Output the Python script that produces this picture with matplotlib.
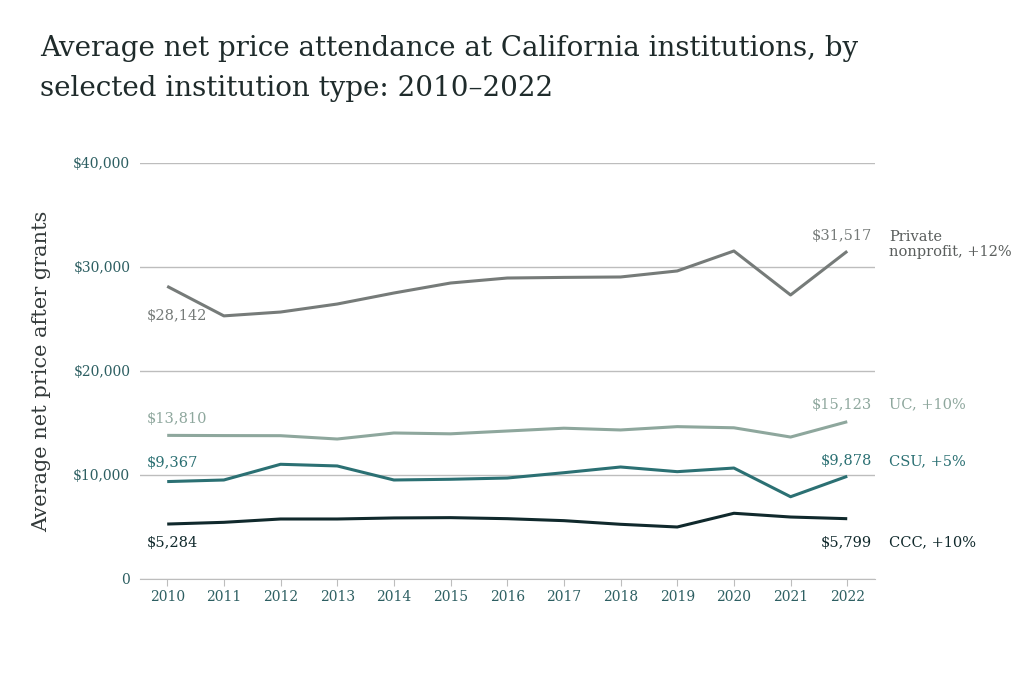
import numpy as np
import matplotlib
matplotlib.use('Agg')
import matplotlib.pyplot as plt
from matplotlib.ticker import FuncFormatter

plt.rcParams['font.family'] = ['DejaVu Serif']

years = list(range(2010, 2023))
private = [28142, 25300, 25670, 26440, 27500, 28460, 28940, 29000, 29040, 29620, 31540, 27310, 31517]
uc = [13810, 13790, 13780, 13460, 14040, 13960, 14230, 14500, 14330, 14650, 14540, 13650, 15123]
csu = [9367, 9520, 11030, 10870, 9520, 9590, 9710, 10220, 10770, 10320, 10670, 7910, 9878]
ccc = [5284, 5450, 5770, 5770, 5870, 5900, 5800, 5610, 5260, 5000, 6320, 5960, 5799]
names = ['Private\nnonprofit, +12%', 'UC, +10%', 'CSU, +5%', 'CCC, +10%']

series = [private, uc, csu, ccc]
colors = ['#767b79', '#8ea79d', '#2b7073', '#10292c']
name_colors = ['#5a5e5d', '#8ea79d', '#2b7073', '#10292c']
# label offsets in pixels (start, end)
start_dy = [-30, 16, 19, -19]
end_dy = [15, 17, 15, -24]

fig = plt.figure(figsize=(10.24, 6.74), dpi=100)
ax = fig.add_axes([140 / 1024, 1 - 579 / 674, 735 / 1024, 416 / 674])

for vals, c, nc, nm, sdy, edy in zip(series, colors, name_colors, names, start_dy, end_dy):
    ax.plot(years, vals, color=c, lw=2.2, solid_capstyle='butt', zorder=3)
    ax.annotate('${:,}'.format(vals[0]), (years[0], vals[0]), xytext=(-20, sdy),
                textcoords='offset pixels', ha='left', va='center', color=c, fontsize=10.5)
    ax.annotate('${:,}'.format(vals[-1]), (years[-1], vals[-1]), xytext=(25, edy),
                textcoords='offset pixels', ha='right', va='center', color=c, fontsize=10.5)
    ny = edy if nm.count('\n') == 0 else edy - 8
    ax.annotate(nm, (years[-1], vals[-1]), xytext=(42, ny),
                textcoords='offset pixels', ha='left', va='center', color=nc, fontsize=10.5,
                linespacing=1.1, annotation_clip=False)

ax.set_xlim(2009.52, 2022.49)
ax.set_ylim(0, 40000)
ax.set_xticks(years)
ax.set_yticks([0, 10000, 20000, 30000, 40000])
ax.yaxis.set_major_formatter(FuncFormatter(lambda v, p: '0' if v == 0 else '${:,.0f}'.format(v)))
ax.grid(axis='y', color='#bdbdbd', lw=1)
ax.set_axisbelow(True)
for s in ['top', 'right', 'left']:
    ax.spines[s].set_visible(False)
ax.spines['bottom'].set_color('#bdbdbd')
ax.tick_params(axis='y', length=0, pad=7, labelcolor='#2d5f62', labelsize=10)
ax.tick_params(axis='x', length=5, color='#bdbdbd', pad=3, labelcolor='#2d5f62', labelsize=10)

ax.set_ylabel('Average net price after grants', fontsize=15, color='#333a3a', labelpad=16)

fig.text(40 / 1024, 1 - 48 / 674, 'Average net price attendance at California institutions, by',
         ha='left', va='center', fontsize=20, color='#1f2b2b')
fig.text(40 / 1024, 1 - 89 / 674, 'selected institution type: 2010\u20132022',
         ha='left', va='center', fontsize=20, color='#1f2b2b')

fig.savefig('out.png', dpi=100)
